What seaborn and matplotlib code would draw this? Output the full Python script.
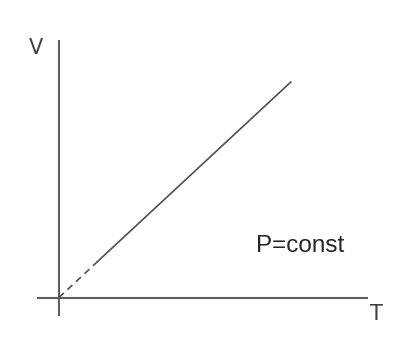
import matplotlib
matplotlib.use("Agg")
import matplotlib.pyplot as plt
import seaborn as sns
import pandas as pd

# Isobaric process: volume grows linearly with temperature
T_extrap = [0.0, 1.65]          # extrapolated part towards absolute zero
V_extrap = [0.0, 1.54]
T_meas = [1.65, 10.0]           # measured part of the isobar
V_meas = [1.54, 9.3]

axis_T = [-0.95, 13.3]          # extent of the temperature axis
axis_V = [-0.8, 11.1]           # extent of the volume axis

label_x = "T"
label_y = "V"
annotation = "P=const"

sns.set_theme(style="white")
plt.rcParams["font.family"] = ["Liberation Sans", "DejaVu Sans"]

fig = plt.figure(figsize=(4.13, 3.40), dpi=100)
ax = fig.add_axes([0, 0, 1, 1])
ax.set_xlim(-2.54, 15.26)
ax.set_ylim(-1.83, 12.83)
ax.set_axis_off()

axis_color = "#5e5e5e"
line_color = "#505050"

# coordinate axes drawn through the origin
ax.plot(axis_T, [0, 0], color=axis_color, lw=1.5, solid_capstyle="butt")
ax.plot([0, 0], axis_V, color=axis_color, lw=1.5, solid_capstyle="butt")

df_meas = pd.DataFrame({"T": T_meas, "V": V_meas})
df_extrap = pd.DataFrame({"T": T_extrap, "V": V_extrap})
sns.lineplot(data=df_meas, x="T", y="V", ax=ax, color=line_color, lw=1.2)
sns.lineplot(data=df_extrap, x="T", y="V", ax=ax, color=line_color, lw=1.2,
             linestyle=(0, (4, 3)))

ax.text(-1.0, 10.75, label_y, fontsize=15, color="#404040", ha="center",
        va="center", family=["DejaVu Sans"])
ax.text(13.7, -0.7, label_x, fontsize=15, color="#404040", ha="center",
        va="center", family=["DejaVu Sans"])
ax.text(10.4, 1.98, annotation, fontsize=17.5, color="#262626",
        ha="center", va="baseline")

fig.savefig("out.png", dpi=100, facecolor="white")
